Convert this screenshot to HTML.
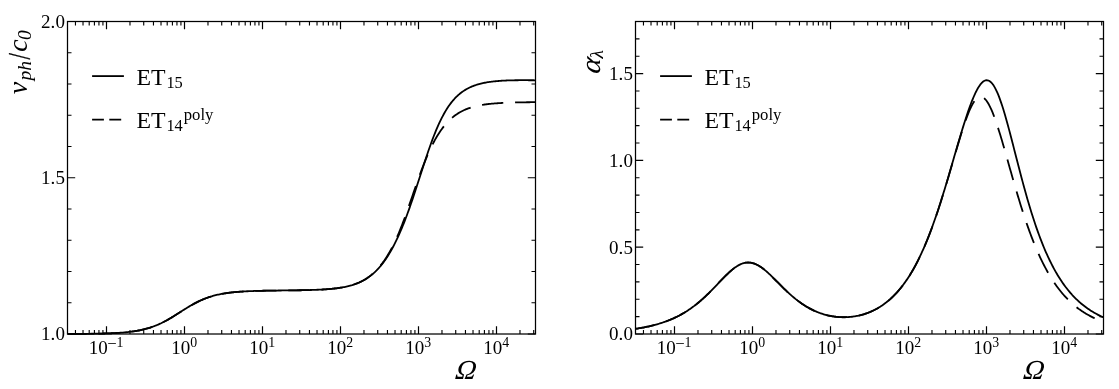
<!DOCTYPE html>
<html><head><meta charset="utf-8"><title>plot</title>
<style>html,body{margin:0;padding:0;background:#fff}svg{display:block}text{font-family:"Liberation Serif",serif;fill:#000}.it{font-style:italic}</style></head><body>
<svg width="1119" height="389" viewBox="0 0 1119 389">
<rect width="1119" height="389" fill="#fff"/>
<clipPath id="c0"><rect x="67.50" y="20.50" width="468.00" height="314.50"/></clipPath>
<g clip-path="url(#c0)" fill="none" stroke="#000" stroke-width="1.80" stroke-linejoin="round">
<path d="M67.50,333.94 L68.47,333.94 L69.45,333.94 L70.43,333.93 L71.40,333.93 L72.38,333.92 L73.35,333.92 L74.32,333.91 L75.30,333.91 L76.28,333.90 L77.25,333.90 L78.22,333.89 L79.20,333.89 L80.18,333.88 L81.15,333.87 L82.12,333.86 L83.10,333.86 L84.07,333.85 L85.05,333.84 L86.03,333.83 L87.00,333.82 L87.97,333.81 L88.95,333.80 L89.93,333.79 L90.90,333.77 L91.88,333.76 L92.85,333.75 L93.82,333.73 L94.80,333.72 L95.78,333.70 L96.75,333.68 L97.72,333.66 L98.70,333.64 L99.68,333.62 L100.65,333.60 L101.62,333.58 L102.60,333.55 L103.57,333.52 L104.55,333.50 L105.53,333.47 L106.50,333.44 L107.48,333.40 L108.45,333.37 L109.42,333.33 L110.40,333.29 L111.38,333.25 L112.35,333.21 L113.33,333.16 L114.30,333.11 L115.28,333.06 L116.25,333.01 L117.23,332.95 L118.20,332.89 L119.18,332.82 L120.15,332.76 L121.12,332.68 L122.10,332.61 L123.08,332.53 L124.05,332.45 L125.03,332.36 L126.00,332.26 L126.98,332.16 L127.95,332.06 L128.93,331.95 L129.90,331.84 L130.88,331.71 L131.85,331.59 L132.82,331.45 L133.80,331.31 L134.78,331.16 L135.75,331.01 L136.73,330.84 L137.70,330.67 L138.68,330.49 L139.65,330.30 L140.62,330.10 L141.60,329.89 L142.57,329.67 L143.55,329.44 L144.53,329.20 L145.50,328.95 L146.47,328.69 L147.45,328.41 L148.43,328.13 L149.40,327.83 L150.38,327.52 L151.35,327.20 L152.33,326.86 L153.30,326.51 L154.28,326.15 L155.25,325.77 L156.22,325.38 L157.20,324.98 L158.18,324.56 L159.15,324.13 L160.12,323.68 L161.10,323.23 L162.08,322.75 L163.05,322.27 L164.03,321.77 L165.00,321.26 L165.98,320.74 L166.95,320.20 L167.93,319.65 L168.90,319.10 L169.88,318.53 L170.85,317.95 L171.83,317.37 L172.80,316.78 L173.78,316.18 L174.75,315.57 L175.73,314.96 L176.70,314.34 L177.68,313.72 L178.65,313.10 L179.62,312.48 L180.60,311.85 L181.58,311.23 L182.55,310.61 L183.53,309.99 L184.50,309.37 L185.48,308.76 L186.45,308.16 L187.43,307.56 L188.40,306.96 L189.38,306.38 L190.35,305.81 L191.33,305.24 L192.30,304.69 L193.28,304.14 L194.25,303.61 L195.23,303.09 L196.20,302.58 L197.18,302.09 L198.15,301.60 L199.12,301.13 L200.10,300.68 L201.08,300.24 L202.05,299.81 L203.03,299.39 L204.00,298.99 L204.98,298.60 L205.95,298.23 L206.93,297.87 L207.90,297.52 L208.88,297.19 L209.85,296.87 L210.83,296.56 L211.80,296.27 L212.78,295.98 L213.75,295.71 L214.73,295.45 L215.70,295.20 L216.68,294.96 L217.65,294.74 L218.62,294.52 L219.60,294.31 L220.58,294.11 L221.55,293.93 L222.53,293.75 L223.50,293.58 L224.48,293.41 L225.45,293.26 L226.43,293.11 L227.40,292.97 L228.38,292.84 L229.35,292.71 L230.32,292.59 L231.30,292.48 L232.28,292.37 L233.25,292.26 L234.23,292.17 L235.20,292.07 L236.18,291.99 L237.15,291.90 L238.12,291.82 L239.10,291.75 L240.07,291.68 L241.05,291.61 L242.03,291.55 L243.00,291.49 L243.98,291.43 L244.95,291.37 L245.93,291.32 L246.90,291.27 L247.88,291.23 L248.85,291.18 L249.82,291.14 L250.80,291.10 L251.78,291.06 L252.75,291.03 L253.73,291.00 L254.70,290.96 L255.68,290.93 L256.65,290.91 L257.62,290.88 L258.60,290.85 L259.58,290.83 L260.55,290.80 L261.53,290.78 L262.50,290.76 L263.48,290.74 L264.45,290.72 L265.43,290.70 L266.40,290.69 L267.38,290.67 L268.35,290.65 L269.33,290.64 L270.30,290.62 L271.28,290.61 L272.25,290.59 L273.23,290.58 L274.20,290.57 L275.18,290.55 L276.15,290.54 L277.12,290.53 L278.10,290.52 L279.08,290.51 L280.05,290.49 L281.03,290.48 L282.00,290.47 L282.98,290.46 L283.95,290.45 L284.93,290.44 L285.90,290.43 L286.88,290.42 L287.85,290.40 L288.83,290.39 L289.80,290.38 L290.78,290.37 L291.75,290.36 L292.73,290.34 L293.70,290.33 L294.68,290.32 L295.65,290.30 L296.62,290.29 L297.60,290.27 L298.58,290.26 L299.55,290.24 L300.53,290.23 L301.50,290.21 L302.48,290.19 L303.45,290.17 L304.43,290.15 L305.40,290.13 L306.38,290.11 L307.35,290.08 L308.33,290.06 L309.30,290.03 L310.28,290.01 L311.25,289.98 L312.23,289.95 L313.20,289.91 L314.18,289.88 L315.15,289.84 L316.12,289.81 L317.10,289.77 L318.08,289.73 L319.05,289.68 L320.03,289.63 L321.00,289.58 L321.98,289.53 L322.95,289.48 L323.93,289.42 L324.90,289.36 L325.88,289.29 L326.85,289.22 L327.83,289.15 L328.80,289.07 L329.78,288.99 L330.75,288.90 L331.73,288.81 L332.70,288.71 L333.68,288.61 L334.65,288.50 L335.62,288.39 L336.60,288.27 L337.58,288.14 L338.55,288.01 L339.53,287.86 L340.50,287.71 L341.48,287.56 L342.45,287.39 L343.43,287.21 L344.40,287.02 L345.38,286.82 L346.35,286.62 L347.33,286.40 L348.30,286.16 L349.28,285.92 L350.25,285.66 L351.23,285.38 L352.20,285.10 L353.18,284.79 L354.15,284.47 L355.12,284.14 L356.10,283.78 L357.08,283.41 L358.05,283.01 L359.03,282.60 L360.00,282.16 L360.98,281.70 L361.95,281.22 L362.93,280.71 L363.90,280.18 L364.88,279.62 L365.85,279.03 L366.83,278.42 L367.80,277.77 L368.78,277.10 L369.75,276.39 L370.73,275.64 L371.70,274.87 L372.68,274.05 L373.65,273.20 L374.62,272.31 L375.60,271.39 L376.58,270.42 L377.55,269.41 L378.53,268.35 L379.50,267.26 L380.48,266.12 L381.45,264.93 L382.43,263.69 L383.40,262.41 L384.38,261.08 L385.35,259.69 L386.33,258.26 L387.30,256.78 L388.27,255.24 L389.25,253.65 L390.23,252.00 L391.20,250.30 L392.18,248.55 L393.15,246.74 L394.12,244.87 L395.10,242.95 L396.08,240.97 L397.05,238.93 L398.02,236.84 L399.00,234.69 L399.98,232.48 L400.95,230.21 L401.93,227.89 L402.90,225.51 L403.88,223.07 L404.85,220.59 L405.83,218.04 L406.80,215.45 L407.77,212.80 L408.75,210.10 L409.73,207.36 L410.70,204.57 L411.68,201.75 L412.65,198.88 L413.62,195.97 L414.60,193.04 L415.58,190.08 L416.55,187.09 L417.52,184.08 L418.50,181.06 L419.48,178.04 L420.45,175.01 L421.43,171.98 L422.40,168.96 L423.38,165.95 L424.35,162.96 L425.33,160.00 L426.30,157.06 L427.27,154.17 L428.25,151.31 L429.23,148.50 L430.20,145.74 L431.18,143.03 L432.15,140.38 L433.12,137.80 L434.10,135.28 L435.08,132.82 L436.05,130.44 L437.02,128.13 L438.00,125.89 L438.98,123.72 L439.95,121.63 L440.93,119.61 L441.90,117.67 L442.88,115.81 L443.85,114.01 L444.83,112.29 L445.80,110.64 L446.78,109.06 L447.75,107.55 L448.73,106.10 L449.70,104.72 L450.68,103.41 L451.65,102.15 L452.62,100.96 L453.60,99.82 L454.58,98.73 L455.55,97.70 L456.53,96.72 L457.50,95.79 L458.48,94.91 L459.45,94.07 L460.43,93.27 L461.40,92.52 L462.38,91.80 L463.35,91.13 L464.33,90.48 L465.30,89.87 L466.28,89.30 L467.25,88.75 L468.23,88.24 L469.20,87.75 L470.18,87.29 L471.15,86.85 L472.12,86.44 L473.10,86.04 L474.08,85.68 L475.05,85.33 L476.03,85.00 L477.00,84.69 L477.98,84.39 L478.95,84.12 L479.93,83.85 L480.90,83.61 L481.88,83.37 L482.85,83.15 L483.83,82.95 L484.80,82.75 L485.78,82.57 L486.75,82.40 L487.73,82.23 L488.70,82.08 L489.68,81.94 L490.65,81.80 L491.62,81.67 L492.60,81.55 L493.58,81.44 L494.55,81.34 L495.53,81.24 L496.50,81.15 L497.48,81.06 L498.45,80.98 L499.43,80.91 L500.40,80.84 L501.38,80.77 L502.35,80.71 L503.33,80.66 L504.30,80.60 L505.28,80.56 L506.25,80.51 L507.23,80.47 L508.20,80.44 L509.18,80.40 L510.15,80.37 L511.12,80.35 L512.10,80.32 L513.08,80.30 L514.05,80.28 L515.03,80.27 L516.00,80.25 L516.98,80.24 L517.95,80.23 L518.93,80.22 L519.90,80.22 L520.88,80.21 L521.85,80.21 L522.83,80.21 L523.80,80.21 L524.78,80.21 L525.75,80.22 L526.73,80.22 L527.70,80.22 L528.68,80.23 L529.65,80.24 L530.62,80.25 L531.60,80.25 L532.58,80.26 L533.55,80.27 L534.53,80.28 L535.50,80.29"/>
<path d="M67.50,333.94 L68.47,333.94 L69.45,333.94 L70.43,333.93 L71.40,333.93 L72.38,333.92 L73.35,333.92 L74.32,333.91 L75.30,333.91 L76.28,333.90 L77.25,333.90 L78.22,333.89 L79.20,333.89 L80.18,333.88 L81.15,333.87 L82.12,333.86 L83.10,333.86 L84.07,333.85 L85.05,333.84 L86.03,333.83 L87.00,333.82 L87.97,333.81 L88.95,333.80 L89.93,333.79 L90.90,333.77 L91.88,333.76 L92.85,333.75 L93.82,333.73 L94.80,333.72 L95.78,333.70 L96.75,333.68 L97.72,333.66 L98.70,333.64 L99.68,333.62 L100.65,333.60 L101.62,333.58 L102.60,333.55 L103.57,333.52 L104.55,333.50 L105.53,333.47 L106.50,333.44 L107.48,333.40 L108.45,333.37 L109.42,333.33 L110.40,333.29 L111.38,333.25 L112.35,333.21 L113.33,333.16 L114.30,333.11 L115.28,333.06 L116.25,333.01 L117.23,332.95 L118.20,332.89 L119.18,332.82 L120.15,332.76 L121.12,332.69 L122.10,332.61 L123.08,332.53 L124.05,332.45 L125.03,332.36 L126.00,332.26 L126.98,332.17 L127.95,332.06 L128.93,331.95 L129.90,331.84 L130.88,331.72 L131.85,331.59 L132.82,331.45 L133.80,331.31 L134.78,331.16 L135.75,331.01 L136.73,330.84 L137.70,330.67 L138.68,330.49 L139.65,330.30 L140.62,330.10 L141.60,329.89 L142.57,329.67 L143.55,329.44 L144.53,329.20 L145.50,328.95 L146.47,328.69 L147.45,328.42 L148.43,328.13 L149.40,327.84 L150.38,327.52 L151.35,327.20 L152.33,326.87 L153.30,326.52 L154.28,326.15 L155.25,325.78 L156.22,325.39 L157.20,324.98 L158.18,324.57 L159.15,324.14 L160.12,323.69 L161.10,323.23 L162.08,322.76 L163.05,322.28 L164.03,321.78 L165.00,321.27 L165.98,320.75 L166.95,320.21 L167.93,319.67 L168.90,319.11 L169.88,318.54 L170.85,317.97 L171.83,317.38 L172.80,316.79 L173.78,316.19 L174.75,315.58 L175.73,314.97 L176.70,314.36 L177.68,313.74 L178.65,313.11 L179.62,312.49 L180.60,311.87 L181.58,311.24 L182.55,310.62 L183.53,310.00 L184.50,309.39 L185.48,308.78 L186.45,308.17 L187.43,307.58 L188.40,306.98 L189.38,306.40 L190.35,305.83 L191.33,305.26 L192.30,304.71 L193.28,304.16 L194.25,303.63 L195.23,303.11 L196.20,302.60 L197.18,302.11 L198.15,301.63 L199.12,301.16 L200.10,300.70 L201.08,300.26 L202.05,299.83 L203.03,299.42 L204.00,299.02 L204.98,298.63 L205.95,298.25 L206.93,297.89 L207.90,297.55 L208.88,297.21 L209.85,296.89 L210.83,296.59 L211.80,296.29 L212.78,296.01 L213.75,295.74 L214.73,295.48 L215.70,295.23 L216.68,294.99 L217.65,294.76 L218.62,294.55 L219.60,294.34 L220.58,294.14 L221.55,293.95 L222.53,293.77 L223.50,293.60 L224.48,293.44 L225.45,293.28 L226.43,293.14 L227.40,293.00 L228.38,292.86 L229.35,292.74 L230.32,292.62 L231.30,292.50 L232.28,292.39 L233.25,292.29 L234.23,292.19 L235.20,292.10 L236.18,292.01 L237.15,291.93 L238.12,291.85 L239.10,291.78 L240.07,291.70 L241.05,291.64 L242.03,291.57 L243.00,291.51 L243.98,291.45 L244.95,291.40 L245.93,291.35 L246.90,291.30 L247.88,291.25 L248.85,291.21 L249.82,291.17 L250.80,291.13 L251.78,291.09 L252.75,291.06 L253.73,291.02 L254.70,290.99 L255.68,290.96 L256.65,290.93 L257.62,290.91 L258.60,290.88 L259.58,290.85 L260.55,290.83 L261.53,290.81 L262.50,290.79 L263.48,290.77 L264.45,290.75 L265.43,290.73 L266.40,290.71 L267.38,290.70 L268.35,290.68 L269.33,290.66 L270.30,290.65 L271.28,290.63 L272.25,290.62 L273.23,290.61 L274.20,290.59 L275.18,290.58 L276.15,290.57 L277.12,290.56 L278.10,290.54 L279.08,290.53 L280.05,290.52 L281.03,290.51 L282.00,290.50 L282.98,290.49 L283.95,290.48 L284.93,290.46 L285.90,290.45 L286.88,290.44 L287.85,290.43 L288.83,290.42 L289.80,290.41 L290.78,290.39 L291.75,290.38 L292.73,290.37 L293.70,290.36 L294.68,290.34 L295.65,290.33 L296.62,290.31 L297.60,290.30 L298.58,290.28 L299.55,290.27 L300.53,290.25 L301.50,290.23 L302.48,290.21 L303.45,290.19 L304.43,290.17 L305.40,290.15 L306.38,290.13 L307.35,290.11 L308.33,290.08 L309.30,290.05 L310.28,290.03 L311.25,290.00 L312.23,289.97 L313.20,289.93 L314.18,289.90 L315.15,289.86 L316.12,289.83 L317.10,289.79 L318.08,289.74 L319.05,289.70 L320.03,289.65 L321.00,289.60 L321.98,289.55 L322.95,289.49 L323.93,289.43 L324.90,289.37 L325.88,289.30 L326.85,289.23 L327.83,289.16 L328.80,289.08 L329.78,289.00 L330.75,288.91 L331.73,288.82 L332.70,288.72 L333.68,288.62 L334.65,288.51 L335.62,288.39 L336.60,288.27 L337.58,288.14 L338.55,288.00 L339.53,287.86 L340.50,287.71 L341.48,287.54 L342.45,287.37 L343.43,287.19 L344.40,287.00 L345.38,286.80 L346.35,286.59 L347.33,286.37 L348.30,286.13 L349.28,285.88 L350.25,285.62 L351.23,285.34 L352.20,285.05 L353.18,284.74 L354.15,284.41 L355.12,284.07 L356.10,283.71 L357.08,283.33 L358.05,282.93 L359.03,282.51 L360.00,282.06 L360.98,281.59 L361.95,281.10 L362.93,280.59 L363.90,280.04 L364.88,279.47 L365.85,278.87 L366.83,278.25 L367.80,277.59 L368.78,276.89 L369.75,276.17 L370.73,275.41 L371.70,274.61 L372.68,273.78 L373.65,272.91 L374.62,272.00 L375.60,271.05 L376.58,270.05 L377.55,269.01 L378.53,267.93 L379.50,266.80 L380.48,265.62 L381.45,264.39 L382.43,263.11 L383.40,261.78 L384.38,260.40 L385.35,258.96 L386.33,257.47 L387.30,255.92 L388.27,254.31 L389.25,252.64 L390.23,250.91 L391.20,249.12 L392.18,247.26 L393.15,245.34 L394.12,243.36 L395.10,241.32 L396.08,239.21 L397.05,237.03 L398.02,234.79 L399.00,232.49 L399.98,230.12 L400.95,227.69 L401.93,225.21 L402.90,222.67 L403.88,220.08 L404.85,217.44 L405.83,214.75 L406.80,212.03 L407.77,209.27 L408.75,206.48 L409.73,203.67 L410.70,200.85 L411.68,198.01 L412.65,195.17 L413.62,192.33 L414.60,189.50 L415.58,186.68 L416.55,183.88 L417.52,181.11 L418.50,178.37 L419.48,175.67 L420.45,173.00 L421.43,170.38 L422.40,167.81 L423.38,165.29 L424.35,162.82 L425.33,160.41 L426.30,158.05 L427.27,155.76 L428.25,153.53 L429.23,151.36 L430.20,149.26 L431.18,147.22 L432.15,145.24 L433.12,143.33 L434.10,141.48 L435.08,139.69 L436.05,137.97 L437.02,136.32 L438.00,134.72 L438.98,133.18 L439.95,131.71 L440.93,130.29 L441.90,128.93 L442.88,127.62 L443.85,126.37 L444.83,125.18 L445.80,124.03 L446.78,122.94 L447.75,121.89 L448.73,120.89 L449.70,119.94 L450.68,119.02 L451.65,118.16 L452.62,117.33 L453.60,116.54 L454.58,115.79 L455.55,115.07 L456.53,114.39 L457.50,113.75 L458.48,113.13 L459.45,112.55 L460.43,111.99 L461.40,111.46 L462.38,110.96 L463.35,110.49 L464.33,110.03 L465.30,109.61 L466.28,109.20 L467.25,108.81 L468.23,108.45 L469.20,108.10 L470.18,107.78 L471.15,107.47 L472.12,107.17 L473.10,106.89 L474.08,106.63 L475.05,106.38 L476.03,106.14 L477.00,105.92 L477.98,105.71 L478.95,105.51 L479.93,105.32 L480.90,105.14 L481.88,104.97 L482.85,104.81 L483.83,104.66 L484.80,104.51 L485.78,104.38 L486.75,104.25 L487.73,104.13 L488.70,104.01 L489.68,103.90 L490.65,103.80 L491.62,103.70 L492.60,103.61 L493.58,103.53 L494.55,103.45 L495.53,103.37 L496.50,103.30 L497.48,103.23 L498.45,103.16 L499.43,103.10 L500.40,103.04 L501.38,102.99 L502.35,102.93 L503.33,102.89 L504.30,102.84 L505.28,102.80 L506.25,102.75 L507.23,102.72 L508.20,102.68 L509.18,102.64 L510.15,102.61 L511.12,102.58 L512.10,102.55 L513.08,102.52 L514.05,102.50 L515.03,102.47 L516.00,102.45 L516.98,102.43 L517.95,102.41 L518.93,102.39 L519.90,102.37 L520.88,102.35 L521.85,102.33 L522.83,102.32 L523.80,102.30 L524.78,102.29 L525.75,102.28 L526.73,102.27 L527.70,102.25 L528.68,102.24 L529.65,102.23 L530.62,102.22 L531.60,102.21 L532.58,102.20 L533.55,102.20 L534.53,102.19 L535.50,102.18" stroke-dasharray="21.3 11.8" stroke-dashoffset="2.2"/>
</g>
<path d="M75.46,334.00v-4.00 M75.46,21.50v4.00 M83.02,334.00v-4.00 M83.02,21.50v4.00 M89.20,334.00v-4.00 M89.20,21.50v4.00 M94.42,334.00v-4.00 M94.42,21.50v4.00 M98.94,334.00v-4.00 M98.94,21.50v4.00 M102.93,334.00v-4.00 M102.93,21.50v4.00 M129.98,334.00v-4.00 M129.98,21.50v4.00 M143.72,334.00v-4.00 M143.72,21.50v4.00 M153.46,334.00v-4.00 M153.46,21.50v4.00 M161.02,334.00v-4.00 M161.02,21.50v4.00 M167.20,334.00v-4.00 M167.20,21.50v4.00 M172.42,334.00v-4.00 M172.42,21.50v4.00 M176.94,334.00v-4.00 M176.94,21.50v4.00 M180.93,334.00v-4.00 M180.93,21.50v4.00 M207.98,334.00v-4.00 M207.98,21.50v4.00 M221.72,334.00v-4.00 M221.72,21.50v4.00 M231.46,334.00v-4.00 M231.46,21.50v4.00 M239.02,334.00v-4.00 M239.02,21.50v4.00 M245.20,334.00v-4.00 M245.20,21.50v4.00 M250.42,334.00v-4.00 M250.42,21.50v4.00 M254.94,334.00v-4.00 M254.94,21.50v4.00 M258.93,334.00v-4.00 M258.93,21.50v4.00 M285.98,334.00v-4.00 M285.98,21.50v4.00 M299.72,334.00v-4.00 M299.72,21.50v4.00 M309.46,334.00v-4.00 M309.46,21.50v4.00 M317.02,334.00v-4.00 M317.02,21.50v4.00 M323.20,334.00v-4.00 M323.20,21.50v4.00 M328.42,334.00v-4.00 M328.42,21.50v4.00 M332.94,334.00v-4.00 M332.94,21.50v4.00 M336.93,334.00v-4.00 M336.93,21.50v4.00 M363.98,334.00v-4.00 M363.98,21.50v4.00 M377.72,334.00v-4.00 M377.72,21.50v4.00 M387.46,334.00v-4.00 M387.46,21.50v4.00 M395.02,334.00v-4.00 M395.02,21.50v4.00 M401.20,334.00v-4.00 M401.20,21.50v4.00 M406.42,334.00v-4.00 M406.42,21.50v4.00 M410.94,334.00v-4.00 M410.94,21.50v4.00 M414.93,334.00v-4.00 M414.93,21.50v4.00 M441.98,334.00v-4.00 M441.98,21.50v4.00 M455.72,334.00v-4.00 M455.72,21.50v4.00 M465.46,334.00v-4.00 M465.46,21.50v4.00 M473.02,334.00v-4.00 M473.02,21.50v4.00 M479.20,334.00v-4.00 M479.20,21.50v4.00 M484.42,334.00v-4.00 M484.42,21.50v4.00 M488.94,334.00v-4.00 M488.94,21.50v4.00 M492.93,334.00v-4.00 M492.93,21.50v4.00 M519.98,334.00v-4.00 M519.98,21.50v4.00 M533.72,334.00v-4.00 M533.72,21.50v4.00 M67.50,302.75h4.00 M535.50,302.75h-4.00 M67.50,271.50h4.00 M535.50,271.50h-4.00 M67.50,240.25h4.00 M535.50,240.25h-4.00 M67.50,209.00h4.00 M535.50,209.00h-4.00 M67.50,146.50h4.00 M535.50,146.50h-4.00 M67.50,115.25h4.00 M535.50,115.25h-4.00 M67.50,84.00h4.00 M535.50,84.00h-4.00 M67.50,52.75h4.00 M535.50,52.75h-4.00" stroke="#000" stroke-width="1.12" fill="none"/>
<path d="M106.50,334.00v-7.70 M106.50,21.50v7.70 M184.50,334.00v-7.70 M184.50,21.50v7.70 M262.50,334.00v-7.70 M262.50,21.50v7.70 M340.50,334.00v-7.70 M340.50,21.50v7.70 M418.50,334.00v-7.70 M418.50,21.50v7.70 M496.50,334.00v-7.70 M496.50,21.50v7.70 M67.50,334.00h7.70 M535.50,334.00h-7.70 M67.50,177.75h7.70 M535.50,177.75h-7.70 M67.50,21.50h7.70 M535.50,21.50h-7.70" stroke="#000" stroke-width="1.20" fill="none"/>
<rect x="67.50" y="21.50" width="468.00" height="312.50" fill="none" stroke="#000" stroke-width="1.25"/>
<text x="88.66" y="353.80" font-size="19">10<tspan font-size="16.6" dx="-0.40" dy="-4.80">−</tspan><tspan font-size="13.8" dx="0.00" dy="-2.10">1</tspan></text>
<text x="171.25" y="353.80" font-size="19">10<tspan font-size="13.8" dy="-6.90">0</tspan></text>
<text x="249.25" y="353.80" font-size="19">10<tspan font-size="13.8" dy="-6.90">1</tspan></text>
<text x="327.25" y="353.80" font-size="19">10<tspan font-size="13.8" dy="-6.90">2</tspan></text>
<text x="405.25" y="353.80" font-size="19">10<tspan font-size="13.8" dy="-6.90">3</tspan></text>
<text x="483.25" y="353.80" font-size="19">10<tspan font-size="13.8" dy="-6.90">4</tspan></text>
<text x="65.10" y="340.40" font-size="19" text-anchor="end" letter-spacing="0.15">1.0</text>
<text x="65.10" y="184.15" font-size="19" text-anchor="end" letter-spacing="0.15">1.5</text>
<text x="65.10" y="27.90" font-size="19" text-anchor="end" letter-spacing="0.15">2.0</text>
<text class="it" font-size="27.5" transform="translate(454.60,379.00) skewX(-8) scale(1.05,1)">Ω</text>
<path d="M92.10,76.10H123.90" stroke="#000" stroke-width="1.80" fill="none"/>
<path d="M92.10,119.60H123.90" stroke="#000" stroke-width="1.80" fill="none" stroke-dasharray="11.8 5.4 11.9 20"/>
<text x="136.50" y="84.80" font-size="23.8">ET<tspan font-size="16.4" dx="0.80" dy="2.90">15</tspan></text>
<text x="136.50" y="127.90" font-size="23.8">ET<tspan font-size="16.4" dx="0.80" dy="2.90">14</tspan><tspan font-size="16.7" dx="1.00" dy="-11.20">poly</tspan></text>
<clipPath id="c1"><rect x="635.50" y="20.50" width="468.00" height="314.50"/></clipPath>
<g clip-path="url(#c1)" fill="none" stroke="#000" stroke-width="1.80" stroke-linejoin="round">
<path d="M635.50,328.84 L636.48,328.69 L637.45,328.53 L638.42,328.37 L639.40,328.21 L640.38,328.04 L641.35,327.87 L642.33,327.69 L643.30,327.51 L644.27,327.32 L645.25,327.12 L646.23,326.92 L647.20,326.72 L648.17,326.51 L649.15,326.29 L650.12,326.07 L651.10,325.84 L652.08,325.60 L653.05,325.36 L654.02,325.11 L655.00,324.85 L655.98,324.58 L656.95,324.31 L657.92,324.03 L658.90,323.74 L659.88,323.45 L660.85,323.14 L661.83,322.83 L662.80,322.51 L663.77,322.17 L664.75,321.83 L665.73,321.48 L666.70,321.12 L667.67,320.76 L668.65,320.38 L669.62,319.99 L670.60,319.58 L671.58,319.17 L672.55,318.75 L673.52,318.32 L674.50,317.87 L675.48,317.41 L676.45,316.94 L677.42,316.46 L678.40,315.96 L679.38,315.45 L680.35,314.93 L681.33,314.40 L682.30,313.85 L683.27,313.28 L684.25,312.71 L685.23,312.11 L686.20,311.51 L687.17,310.88 L688.15,310.25 L689.12,309.60 L690.10,308.93 L691.08,308.25 L692.05,307.55 L693.02,306.83 L694.00,306.10 L694.98,305.35 L695.95,304.59 L696.92,303.81 L697.90,303.02 L698.88,302.21 L699.85,301.38 L700.83,300.54 L701.80,299.68 L702.77,298.81 L703.75,297.92 L704.73,297.02 L705.70,296.10 L706.67,295.17 L707.65,294.23 L708.62,293.27 L709.60,292.30 L710.58,291.33 L711.55,290.34 L712.52,289.34 L713.50,288.34 L714.48,287.32 L715.45,286.31 L716.42,285.28 L717.40,284.26 L718.38,283.23 L719.35,282.21 L720.33,281.19 L721.30,280.17 L722.27,279.15 L723.25,278.15 L724.23,277.16 L725.20,276.17 L726.17,275.21 L727.15,274.26 L728.12,273.33 L729.10,272.42 L730.08,271.53 L731.05,270.68 L732.02,269.85 L733.00,269.06 L733.98,268.30 L734.95,267.57 L735.92,266.89 L736.90,266.25 L737.88,265.65 L738.85,265.10 L739.83,264.60 L740.80,264.14 L741.77,263.74 L742.75,263.40 L743.73,263.10 L744.70,262.86 L745.67,262.68 L746.65,262.56 L747.62,262.49 L748.60,262.49 L749.58,262.54 L750.55,262.64 L751.52,262.81 L752.50,263.03 L753.48,263.30 L754.45,263.63 L755.42,264.02 L756.40,264.45 L757.38,264.94 L758.35,265.47 L759.33,266.04 L760.30,266.67 L761.27,267.33 L762.25,268.03 L763.23,268.76 L764.20,269.53 L765.17,270.34 L766.15,271.17 L767.12,272.02 L768.10,272.90 L769.08,273.80 L770.05,274.72 L771.02,275.66 L772.00,276.61 L772.98,277.57 L773.95,278.54 L774.92,279.51 L775.90,280.49 L776.88,281.48 L777.85,282.46 L778.83,283.45 L779.80,284.43 L780.77,285.41 L781.75,286.38 L782.73,287.35 L783.70,288.31 L784.67,289.26 L785.65,290.20 L786.62,291.12 L787.60,292.04 L788.58,292.94 L789.55,293.83 L790.52,294.70 L791.50,295.56 L792.48,296.40 L793.45,297.23 L794.42,298.04 L795.40,298.84 L796.38,299.61 L797.35,300.37 L798.33,301.11 L799.30,301.84 L800.28,302.55 L801.25,303.23 L802.23,303.90 L803.20,304.56 L804.17,305.19 L805.15,305.81 L806.12,306.41 L807.10,306.99 L808.08,307.55 L809.05,308.10 L810.03,308.63 L811.00,309.14 L811.98,309.63 L812.95,310.11 L813.92,310.57 L814.90,311.01 L815.88,311.44 L816.85,311.85 L817.83,312.24 L818.80,312.62 L819.78,312.98 L820.75,313.33 L821.73,313.66 L822.70,313.97 L823.67,314.27 L824.65,314.56 L825.62,314.83 L826.60,315.08 L827.58,315.32 L828.55,315.54 L829.53,315.75 L830.50,315.95 L831.48,316.13 L832.45,316.30 L833.42,316.45 L834.40,316.59 L835.38,316.72 L836.35,316.83 L837.33,316.93 L838.30,317.01 L839.28,317.08 L840.25,317.13 L841.23,317.18 L842.20,317.21 L843.17,317.22 L844.15,317.22 L845.12,317.21 L846.10,317.18 L847.08,317.14 L848.05,317.09 L849.03,317.02 L850.00,316.94 L850.98,316.85 L851.95,316.74 L852.92,316.61 L853.90,316.48 L854.88,316.33 L855.85,316.16 L856.83,315.98 L857.80,315.78 L858.78,315.57 L859.75,315.34 L860.73,315.10 L861.70,314.85 L862.67,314.57 L863.65,314.28 L864.62,313.98 L865.60,313.66 L866.58,313.32 L867.55,312.97 L868.53,312.59 L869.50,312.20 L870.48,311.80 L871.45,311.37 L872.42,310.93 L873.40,310.46 L874.38,309.98 L875.35,309.48 L876.33,308.96 L877.30,308.42 L878.28,307.85 L879.25,307.27 L880.23,306.66 L881.20,306.04 L882.17,305.39 L883.15,304.71 L884.12,304.02 L885.10,303.29 L886.08,302.55 L887.05,301.78 L888.03,300.98 L889.00,300.16 L889.98,299.31 L890.95,298.43 L891.92,297.53 L892.90,296.59 L893.88,295.63 L894.85,294.64 L895.83,293.61 L896.80,292.56 L897.78,291.47 L898.75,290.35 L899.73,289.19 L900.70,288.01 L901.67,286.78 L902.65,285.52 L903.62,284.23 L904.60,282.90 L905.58,281.53 L906.55,280.12 L907.53,278.67 L908.50,277.18 L909.48,275.65 L910.45,274.08 L911.42,272.46 L912.40,270.81 L913.38,269.11 L914.35,267.36 L915.33,265.57 L916.30,263.73 L917.28,261.85 L918.25,259.92 L919.23,257.94 L920.20,255.91 L921.17,253.84 L922.15,251.71 L923.12,249.54 L924.10,247.31 L925.08,245.04 L926.05,242.71 L927.03,240.34 L928.00,237.91 L928.98,235.43 L929.95,232.90 L930.92,230.33 L931.90,227.70 L932.88,225.02 L933.85,222.30 L934.83,219.52 L935.80,216.70 L936.78,213.84 L937.75,210.92 L938.73,207.97 L939.70,204.97 L940.67,201.93 L941.65,198.85 L942.62,195.74 L943.60,192.59 L944.58,189.40 L945.55,186.19 L946.53,182.95 L947.50,179.68 L948.48,176.39 L949.45,173.08 L950.43,169.76 L951.40,166.42 L952.38,163.07 L953.35,159.72 L954.33,156.37 L955.30,153.02 L956.27,149.68 L957.25,146.35 L958.23,143.03 L959.20,139.74 L960.18,136.47 L961.15,133.23 L962.12,130.03 L963.10,126.86 L964.08,123.75 L965.05,120.68 L966.02,117.67 L967.00,114.73 L967.98,111.86 L968.95,109.06 L969.93,106.35 L970.90,103.73 L971.88,101.20 L972.85,98.79 L973.83,96.48 L974.80,94.29 L975.77,92.23 L976.75,90.31 L977.73,88.53 L978.70,86.90 L979.68,85.44 L980.65,84.14 L981.62,83.01 L982.60,82.07 L983.58,81.32 L984.55,80.76 L985.52,80.40 L986.50,80.24 L987.48,80.30 L988.45,80.56 L989.43,81.04 L990.40,81.74 L991.38,82.64 L992.35,83.76 L993.33,85.09 L994.30,86.62 L995.27,88.36 L996.25,90.29 L997.23,92.41 L998.20,94.71 L999.18,97.18 L1000.15,99.82 L1001.12,102.60 L1002.10,105.53 L1003.08,108.60 L1004.05,111.78 L1005.02,115.07 L1006.00,118.47 L1006.98,121.95 L1007.95,125.50 L1008.93,129.12 L1009.90,132.80 L1010.88,136.52 L1011.85,140.28 L1012.83,144.06 L1013.80,147.86 L1014.78,151.67 L1015.75,155.48 L1016.73,159.29 L1017.70,163.08 L1018.68,166.85 L1019.65,170.60 L1020.62,174.32 L1021.60,178.00 L1022.58,181.64 L1023.55,185.25 L1024.53,188.80 L1025.50,192.31 L1026.47,195.76 L1027.45,199.16 L1028.43,202.50 L1029.40,205.79 L1030.38,209.02 L1031.35,212.18 L1032.33,215.29 L1033.30,218.33 L1034.28,221.31 L1035.25,224.23 L1036.22,227.09 L1037.20,229.89 L1038.18,232.62 L1039.15,235.29 L1040.12,237.90 L1041.10,240.44 L1042.08,242.93 L1043.05,245.36 L1044.03,247.73 L1045.00,250.04 L1045.97,252.29 L1046.95,254.49 L1047.93,256.63 L1048.90,258.71 L1049.88,260.74 L1050.85,262.72 L1051.83,264.65 L1052.80,266.53 L1053.78,268.36 L1054.75,270.14 L1055.72,271.87 L1056.70,273.55 L1057.68,275.19 L1058.65,276.79 L1059.62,278.34 L1060.60,279.85 L1061.58,281.32 L1062.55,282.75 L1063.53,284.13 L1064.50,285.48 L1065.47,286.80 L1066.45,288.07 L1067.43,289.31 L1068.40,290.52 L1069.38,291.69 L1070.35,292.83 L1071.33,293.94 L1072.30,295.02 L1073.28,296.06 L1074.25,297.08 L1075.22,298.07 L1076.20,299.03 L1077.18,299.96 L1078.15,300.87 L1079.12,301.76 L1080.10,302.61 L1081.08,303.45 L1082.05,304.26 L1083.03,305.05 L1084.00,305.81 L1084.97,306.56 L1085.95,307.29 L1086.93,307.99 L1087.90,308.68 L1088.88,309.35 L1089.85,309.99 L1090.83,310.63 L1091.80,311.24 L1092.78,311.84 L1093.75,312.42 L1094.72,312.99 L1095.70,313.54 L1096.68,314.08 L1097.65,314.60 L1098.62,315.11 L1099.60,315.61 L1100.58,316.10 L1101.55,316.57 L1102.53,317.03 L1103.50,317.47"/>
<path d="M635.50,328.84 L636.48,328.69 L637.45,328.54 L638.42,328.38 L639.40,328.21 L640.38,328.05 L641.35,327.87 L642.33,327.70 L643.30,327.51 L644.27,327.32 L645.25,327.13 L646.23,326.93 L647.20,326.72 L648.17,326.51 L649.15,326.30 L650.12,326.07 L651.10,325.84 L652.08,325.61 L653.05,325.36 L654.02,325.11 L655.00,324.85 L655.98,324.59 L656.95,324.32 L657.92,324.04 L658.90,323.75 L659.88,323.45 L660.85,323.15 L661.83,322.84 L662.80,322.51 L663.77,322.18 L664.75,321.84 L665.73,321.49 L666.70,321.13 L667.67,320.77 L668.65,320.39 L669.62,320.00 L670.60,319.60 L671.58,319.18 L672.55,318.76 L673.52,318.33 L674.50,317.88 L675.48,317.42 L676.45,316.95 L677.42,316.47 L678.40,315.97 L679.38,315.47 L680.35,314.94 L681.33,314.41 L682.30,313.86 L683.27,313.30 L684.25,312.72 L685.23,312.13 L686.20,311.52 L687.17,310.90 L688.15,310.27 L689.12,309.61 L690.10,308.95 L691.08,308.26 L692.05,307.57 L693.02,306.85 L694.00,306.12 L694.98,305.37 L695.95,304.61 L696.92,303.83 L697.90,303.04 L698.88,302.23 L699.85,301.40 L700.83,300.56 L701.80,299.70 L702.77,298.83 L703.75,297.95 L704.73,297.04 L705.70,296.13 L706.67,295.20 L707.65,294.26 L708.62,293.30 L709.60,292.33 L710.58,291.36 L711.55,290.37 L712.52,289.37 L713.50,288.37 L714.48,287.36 L715.45,286.34 L716.42,285.32 L717.40,284.29 L718.38,283.27 L719.35,282.24 L720.33,281.22 L721.30,280.20 L722.27,279.19 L723.25,278.19 L724.23,277.19 L725.20,276.21 L726.17,275.25 L727.15,274.30 L728.12,273.37 L729.10,272.46 L730.08,271.58 L731.05,270.72 L732.02,269.89 L733.00,269.10 L733.98,268.34 L734.95,267.62 L735.92,266.93 L736.90,266.29 L737.88,265.69 L738.85,265.14 L739.83,264.64 L740.80,264.19 L741.77,263.79 L742.75,263.44 L743.73,263.15 L744.70,262.91 L745.67,262.73 L746.65,262.60 L747.62,262.54 L748.60,262.53 L749.58,262.58 L750.55,262.69 L751.52,262.85 L752.50,263.07 L753.48,263.35 L754.45,263.68 L755.42,264.06 L756.40,264.49 L757.38,264.98 L758.35,265.51 L759.33,266.08 L760.30,266.70 L761.27,267.36 L762.25,268.06 L763.23,268.80 L764.20,269.57 L765.17,270.37 L766.15,271.20 L767.12,272.06 L768.10,272.94 L769.08,273.84 L770.05,274.75 L771.02,275.69 L772.00,276.64 L772.98,277.60 L773.95,278.57 L774.92,279.54 L775.90,280.52 L776.88,281.51 L777.85,282.49 L778.83,283.48 L779.80,284.46 L780.77,285.44 L781.75,286.41 L782.73,287.38 L783.70,288.33 L784.67,289.28 L785.65,290.22 L786.62,291.15 L787.60,292.06 L788.58,292.96 L789.55,293.85 L790.52,294.72 L791.50,295.58 L792.48,296.43 L793.45,297.25 L794.42,298.06 L795.40,298.86 L796.38,299.63 L797.35,300.39 L798.33,301.13 L799.30,301.86 L800.28,302.56 L801.25,303.25 L802.23,303.92 L803.20,304.58 L804.17,305.21 L805.15,305.83 L806.12,306.43 L807.10,307.01 L808.08,307.57 L809.05,308.12 L810.03,308.65 L811.00,309.16 L811.98,309.65 L812.95,310.13 L813.92,310.59 L814.90,311.03 L815.88,311.46 L816.85,311.87 L817.83,312.26 L818.80,312.64 L819.78,313.00 L820.75,313.35 L821.73,313.68 L822.70,313.99 L823.67,314.29 L824.65,314.57 L825.62,314.84 L826.60,315.10 L827.58,315.34 L828.55,315.56 L829.53,315.77 L830.50,315.97 L831.48,316.15 L832.45,316.32 L833.42,316.47 L834.40,316.61 L835.38,316.74 L836.35,316.85 L837.33,316.95 L838.30,317.03 L839.28,317.10 L840.25,317.16 L841.23,317.20 L842.20,317.23 L843.17,317.24 L844.15,317.25 L845.12,317.23 L846.10,317.21 L847.08,317.17 L848.05,317.12 L849.03,317.05 L850.00,316.97 L850.98,316.87 L851.95,316.77 L852.92,316.64 L853.90,316.51 L854.88,316.35 L855.85,316.19 L856.83,316.01 L857.80,315.81 L858.78,315.60 L859.75,315.38 L860.73,315.14 L861.70,314.88 L862.67,314.61 L863.65,314.32 L864.62,314.02 L865.60,313.70 L866.58,313.36 L867.55,313.01 L868.53,312.63 L869.50,312.25 L870.48,311.84 L871.45,311.42 L872.42,310.97 L873.40,310.51 L874.38,310.03 L875.35,309.53 L876.33,309.01 L877.30,308.47 L878.28,307.91 L879.25,307.32 L880.23,306.72 L881.20,306.09 L882.17,305.45 L883.15,304.77 L884.12,304.08 L885.10,303.36 L886.08,302.62 L887.05,301.85 L888.03,301.05 L889.00,300.23 L889.98,299.38 L890.95,298.51 L891.92,297.60 L892.90,296.67 L893.88,295.71 L894.85,294.72 L895.83,293.70 L896.80,292.64 L897.78,291.56 L898.75,290.44 L899.73,289.29 L900.70,288.10 L901.67,286.88 L902.65,285.63 L903.62,284.34 L904.60,283.01 L905.58,281.64 L906.55,280.23 L907.53,278.79 L908.50,277.30 L909.48,275.77 L910.45,274.21 L911.42,272.60 L912.40,270.94 L913.38,269.24 L914.35,267.50 L915.33,265.71 L916.30,263.88 L917.28,262.00 L918.25,260.07 L919.23,258.10 L920.20,256.08 L921.17,254.00 L922.15,251.88 L923.12,249.71 L924.10,247.49 L925.08,245.22 L926.05,242.90 L927.03,240.53 L928.00,238.11 L928.98,235.64 L929.95,233.11 L930.92,230.54 L931.90,227.92 L932.88,225.25 L933.85,222.53 L934.83,219.76 L935.80,216.94 L936.78,214.08 L937.75,211.18 L938.73,208.23 L939.70,205.23 L940.67,202.20 L941.65,199.13 L942.62,196.02 L943.60,192.88 L944.58,189.70 L945.55,186.49 L946.53,183.26 L947.50,180.00 L948.48,176.72 L949.45,173.42 L950.43,170.11 L951.40,166.79 L952.38,163.46 L953.35,160.13 L954.33,156.81 L955.30,153.49 L956.27,150.18 L957.25,146.89 L958.23,143.63 L959.20,140.40 L960.18,137.21 L961.15,134.07 L962.12,130.98 L963.10,127.96 L964.08,125.01 L965.05,122.15 L966.02,119.38 L967.00,116.71 L967.98,114.17 L968.95,111.75 L969.93,109.48 L970.90,107.35 L971.88,105.39 L972.85,103.61 L973.83,102.01 L974.80,100.60 L975.77,99.40 L976.75,98.41 L977.73,97.64 L978.70,97.09 L979.68,96.76 L980.65,96.66 L981.62,96.79 L982.60,97.15 L983.58,97.73 L984.55,98.52 L985.52,99.53 L986.50,100.75 L987.48,102.17 L988.45,103.78 L989.43,105.58 L990.40,107.55 L991.38,109.68 L992.35,111.97 L993.33,114.40 L994.30,116.96 L995.27,119.65 L996.25,122.46 L997.23,125.36 L998.20,128.36 L999.18,131.45 L1000.15,134.60 L1001.12,137.82 L1002.10,141.10 L1003.08,144.43 L1004.05,147.79 L1005.02,151.19 L1006.00,154.61 L1006.98,158.05 L1007.95,161.50 L1008.93,164.95 L1009.90,168.40 L1010.88,171.85 L1011.85,175.28 L1012.83,178.69 L1013.80,182.09 L1014.78,185.46 L1015.75,188.80 L1016.73,192.10 L1017.70,195.37 L1018.68,198.61 L1019.65,201.80 L1020.62,204.95 L1021.60,208.06 L1022.58,211.11 L1023.55,214.12 L1024.53,217.08 L1025.50,219.99 L1026.47,222.85 L1027.45,225.65 L1028.43,228.41 L1029.40,231.10 L1030.38,233.75 L1031.35,236.34 L1032.33,238.88 L1033.30,241.36 L1034.28,243.79 L1035.25,246.17 L1036.22,248.49 L1037.20,250.76 L1038.18,252.98 L1039.15,255.15 L1040.12,257.26 L1041.10,259.33 L1042.08,261.35 L1043.05,263.31 L1044.03,265.23 L1045.00,267.10 L1045.97,268.93 L1046.95,270.71 L1047.93,272.44 L1048.90,274.13 L1049.88,275.78 L1050.85,277.38 L1051.83,278.94 L1052.80,280.46 L1053.78,281.94 L1054.75,283.39 L1055.72,284.79 L1056.70,286.16 L1057.68,287.49 L1058.65,288.78 L1059.62,290.04 L1060.60,291.27 L1061.58,292.46 L1062.55,293.63 L1063.53,294.76 L1064.50,295.85 L1065.47,296.92 L1066.45,297.96 L1067.43,298.97 L1068.40,299.96 L1069.38,300.91 L1070.35,301.84 L1071.33,302.75 L1072.30,303.63 L1073.28,304.48 L1074.25,305.31 L1075.22,306.12 L1076.20,306.91 L1077.18,307.67 L1078.15,308.41 L1079.12,309.14 L1080.10,309.84 L1081.08,310.52 L1082.05,311.18 L1083.03,311.83 L1084.00,312.45 L1084.97,313.06 L1085.95,313.65 L1086.93,314.23 L1087.90,314.79 L1088.88,315.33 L1089.85,315.86 L1090.83,316.37 L1091.80,316.87 L1092.78,317.36 L1093.75,317.83 L1094.72,318.29 L1095.70,318.73 L1096.68,319.16 L1097.65,319.58 L1098.62,319.99 L1099.60,320.39 L1100.58,320.77 L1101.55,321.15 L1102.53,321.51 L1103.50,321.87" stroke-dasharray="21.3 11.8" stroke-dashoffset="1.9"/>
</g>
<path d="M643.46,334.00v-4.00 M643.46,21.50v4.00 M651.02,334.00v-4.00 M651.02,21.50v4.00 M657.20,334.00v-4.00 M657.20,21.50v4.00 M662.42,334.00v-4.00 M662.42,21.50v4.00 M666.94,334.00v-4.00 M666.94,21.50v4.00 M670.93,334.00v-4.00 M670.93,21.50v4.00 M697.98,334.00v-4.00 M697.98,21.50v4.00 M711.72,334.00v-4.00 M711.72,21.50v4.00 M721.46,334.00v-4.00 M721.46,21.50v4.00 M729.02,334.00v-4.00 M729.02,21.50v4.00 M735.20,334.00v-4.00 M735.20,21.50v4.00 M740.42,334.00v-4.00 M740.42,21.50v4.00 M744.94,334.00v-4.00 M744.94,21.50v4.00 M748.93,334.00v-4.00 M748.93,21.50v4.00 M775.98,334.00v-4.00 M775.98,21.50v4.00 M789.72,334.00v-4.00 M789.72,21.50v4.00 M799.46,334.00v-4.00 M799.46,21.50v4.00 M807.02,334.00v-4.00 M807.02,21.50v4.00 M813.20,334.00v-4.00 M813.20,21.50v4.00 M818.42,334.00v-4.00 M818.42,21.50v4.00 M822.94,334.00v-4.00 M822.94,21.50v4.00 M826.93,334.00v-4.00 M826.93,21.50v4.00 M853.98,334.00v-4.00 M853.98,21.50v4.00 M867.72,334.00v-4.00 M867.72,21.50v4.00 M877.46,334.00v-4.00 M877.46,21.50v4.00 M885.02,334.00v-4.00 M885.02,21.50v4.00 M891.20,334.00v-4.00 M891.20,21.50v4.00 M896.42,334.00v-4.00 M896.42,21.50v4.00 M900.94,334.00v-4.00 M900.94,21.50v4.00 M904.93,334.00v-4.00 M904.93,21.50v4.00 M931.98,334.00v-4.00 M931.98,21.50v4.00 M945.72,334.00v-4.00 M945.72,21.50v4.00 M955.46,334.00v-4.00 M955.46,21.50v4.00 M963.02,334.00v-4.00 M963.02,21.50v4.00 M969.20,334.00v-4.00 M969.20,21.50v4.00 M974.42,334.00v-4.00 M974.42,21.50v4.00 M978.94,334.00v-4.00 M978.94,21.50v4.00 M982.93,334.00v-4.00 M982.93,21.50v4.00 M1009.98,334.00v-4.00 M1009.98,21.50v4.00 M1023.72,334.00v-4.00 M1023.72,21.50v4.00 M1033.46,334.00v-4.00 M1033.46,21.50v4.00 M1041.02,334.00v-4.00 M1041.02,21.50v4.00 M1047.20,334.00v-4.00 M1047.20,21.50v4.00 M1052.42,334.00v-4.00 M1052.42,21.50v4.00 M1056.94,334.00v-4.00 M1056.94,21.50v4.00 M1060.93,334.00v-4.00 M1060.93,21.50v4.00 M1087.98,334.00v-4.00 M1087.98,21.50v4.00 M1101.72,334.00v-4.00 M1101.72,21.50v4.00 M635.50,316.64h4.00 M1103.50,316.64h-4.00 M635.50,299.28h4.00 M1103.50,299.28h-4.00 M635.50,281.92h4.00 M1103.50,281.92h-4.00 M635.50,264.56h4.00 M1103.50,264.56h-4.00 M635.50,229.83h4.00 M1103.50,229.83h-4.00 M635.50,212.47h4.00 M1103.50,212.47h-4.00 M635.50,195.11h4.00 M1103.50,195.11h-4.00 M635.50,177.75h4.00 M1103.50,177.75h-4.00 M635.50,143.03h4.00 M1103.50,143.03h-4.00 M635.50,125.67h4.00 M1103.50,125.67h-4.00 M635.50,108.31h4.00 M1103.50,108.31h-4.00 M635.50,90.94h4.00 M1103.50,90.94h-4.00 M635.50,56.22h4.00 M1103.50,56.22h-4.00 M635.50,38.86h4.00 M1103.50,38.86h-4.00 M635.50,21.50h4.00 M1103.50,21.50h-4.00" stroke="#000" stroke-width="1.12" fill="none"/>
<path d="M674.50,334.00v-7.70 M674.50,21.50v7.70 M752.50,334.00v-7.70 M752.50,21.50v7.70 M830.50,334.00v-7.70 M830.50,21.50v7.70 M908.50,334.00v-7.70 M908.50,21.50v7.70 M986.50,334.00v-7.70 M986.50,21.50v7.70 M1064.50,334.00v-7.70 M1064.50,21.50v7.70 M635.50,334.00h7.70 M1103.50,334.00h-7.70 M635.50,247.19h7.70 M1103.50,247.19h-7.70 M635.50,160.39h7.70 M1103.50,160.39h-7.70 M635.50,73.58h7.70 M1103.50,73.58h-7.70" stroke="#000" stroke-width="1.20" fill="none"/>
<rect x="635.50" y="21.50" width="468.00" height="312.50" fill="none" stroke="#000" stroke-width="1.25"/>
<text x="656.66" y="353.80" font-size="19">10<tspan font-size="16.6" dx="-0.40" dy="-4.80">−</tspan><tspan font-size="13.8" dx="0.00" dy="-2.10">1</tspan></text>
<text x="739.25" y="353.80" font-size="19">10<tspan font-size="13.8" dy="-6.90">0</tspan></text>
<text x="817.25" y="353.80" font-size="19">10<tspan font-size="13.8" dy="-6.90">1</tspan></text>
<text x="895.25" y="353.80" font-size="19">10<tspan font-size="13.8" dy="-6.90">2</tspan></text>
<text x="973.25" y="353.80" font-size="19">10<tspan font-size="13.8" dy="-6.90">3</tspan></text>
<text x="1051.25" y="353.80" font-size="19">10<tspan font-size="13.8" dy="-6.90">4</tspan></text>
<text x="633.10" y="340.40" font-size="19" text-anchor="end" letter-spacing="0.15">0.0</text>
<text x="633.10" y="254.39" font-size="19" text-anchor="end" letter-spacing="0.15">0.5</text>
<text x="633.10" y="166.79" font-size="19" text-anchor="end" letter-spacing="0.15">1.0</text>
<text x="633.10" y="79.98" font-size="19" text-anchor="end" letter-spacing="0.15">1.5</text>
<text class="it" font-size="27.5" transform="translate(1022.60,379.00) skewX(-8) scale(1.05,1)">Ω</text>
<path d="M660.10,76.10H691.90" stroke="#000" stroke-width="1.80" fill="none"/>
<path d="M660.10,119.60H691.90" stroke="#000" stroke-width="1.80" fill="none" stroke-dasharray="11.8 5.4 11.9 20"/>
<text x="704.50" y="84.80" font-size="23.8">ET<tspan font-size="16.4" dx="0.80" dy="2.90">15</tspan></text>
<text x="704.50" y="127.90" font-size="23.8">ET<tspan font-size="16.4" dx="0.80" dy="2.90">14</tspan><tspan font-size="16.7" dx="1.00" dy="-11.20">poly</tspan></text>
<g transform="translate(26.90,94.30) rotate(-90)">
<text class="it" x="0" y="0" font-size="28">v</text>
<text class="it" x="13.70" y="3.70" font-size="19.5">ph</text>
<text font-size="32" stroke="#000" stroke-width="0.25" transform="translate(34.80,2.70) scale(0.72,1)">/</text>
<text class="it" x="42.50" y="0" font-size="28">c</text>
<text class="it" x="54.30" y="4.10" font-size="19.5">0</text>
</g>
<g transform="translate(599.80,74.60) rotate(-90)">
<text class="it" font-size="28" transform="skewX(-10) scale(1.08,1)">α</text>
<text class="it" x="16.00" y="3.60" font-size="19.5">λ</text>
</g>
</svg></body></html>
